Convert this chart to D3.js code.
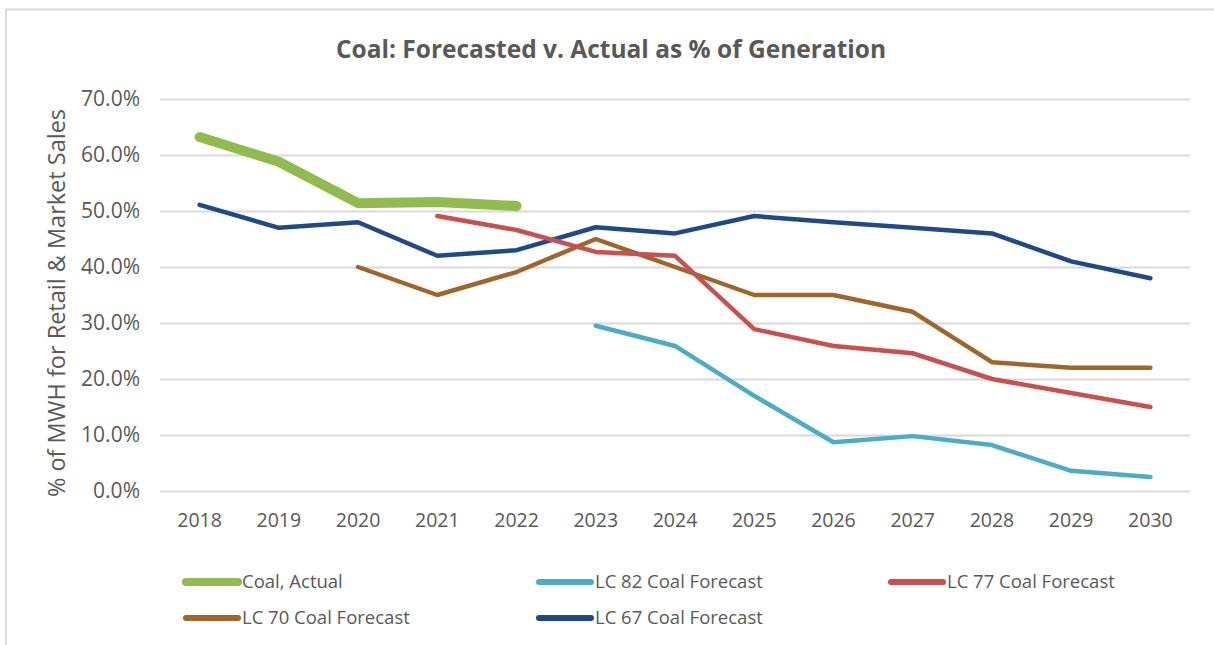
<!DOCTYPE html>
<html>
<head>
<meta charset="utf-8">
<script src="https://cdn.jsdelivr.net/npm/d3@7"></script>
<style>
  html, body { margin: 0; padding: 0; background: #fff; }
  svg { display: block; font-family: "Open Sans", sans-serif; }
</style>
</head>
<body>
<div id="chart"></div>
<script>
// Coal forecast vs actual
const years = ['2018', '2019', '2020', '2021', '2022', '2023', '2024', '2025', '2026', '2027', '2028', '2029', '2030'];
const yTicks = [0, 0.1, 0.2, 0.3, 0.4, 0.5, 0.6, 0.7];

const coalActual = [0.632, 0.588, 0.514, 0.516, 0.509, null, null, null, null, null, null, null, null];
const lc82 = [null, null, null, null, null, 0.295, 0.259, 0.170, 0.087, 0.098, 0.082, 0.036, 0.025];
const lc77 = [null, null, null, 0.491, 0.466, 0.427, 0.420, 0.289, 0.259, 0.246, 0.200, 0.175, 0.150];
const lc70 = [null, null, 0.400, 0.350, 0.391, 0.450, 0.400, 0.350, 0.350, 0.320, 0.230, 0.220, 0.220];
const lc67 = [0.511, 0.470, 0.480, 0.420, 0.430, 0.471, 0.460, 0.491, 0.480, 0.470, 0.460, 0.410, 0.380];

const seriesNames = ['Coal, Actual', 'LC 82 Coal Forecast', 'LC 77 Coal Forecast', 'LC 70 Coal Forecast', 'LC 67 Coal Forecast'];

const W = 1214, H = 645;
const margin = { top: 99, right: 24, bottom: 154, left: 160 };
const textColor = '#595959';

const series = [
  { name: seriesNames[0], values: coalActual, color: '#92bb4f', width: 10 },
  { name: seriesNames[1], values: lc82, color: '#4bacc6', width: 4.5 },
  { name: seriesNames[2], values: lc77, color: '#c8504f', width: 4.5 },
  { name: seriesNames[3], values: lc70, color: '#a0652b', width: 4.5 },
  { name: seriesNames[4], values: lc67, color: '#1f4a87', width: 4.5 }
];

const svg = d3.select('#chart').append('svg')
  .attr('width', W)
  .attr('height', H);

// outer frame (only top & left edges show in the crop)
svg.append('path')
  .attr('d', `M6,${H} V9.5 H${W}`)
  .attr('fill', 'none')
  .attr('stroke', '#d9d9d9')
  .attr('stroke-width', 2);

const x = d3.scaleBand()
  .domain(years)
  .range([margin.left, W - margin.right]);

const y = d3.scaleLinear()
  .domain([0, 0.7])
  .range([H - margin.bottom, margin.top]);

// title
svg.append('text')
  .attr('x', 611)
  .attr('y', 58)
  .attr('text-anchor', 'middle')
  .attr('font-size', 24.5)
  .attr('font-weight', 700)
  .attr('fill', textColor)
  .text('Coal: Forecasted v. Actual as % of Generation');

// y axis + gridlines
const yAxis = svg.append('g')
  .attr('transform', `translate(${margin.left},0)`)
  .call(d3.axisLeft(y)
    .tickValues(yTicks)
    .tickFormat(d3.format('.1%'))
    .tickSize(-(W - margin.left - margin.right))
    .tickPadding(20));
yAxis.select('.domain').remove();
yAxis.selectAll('.tick line')
  .attr('stroke', '#d9d9d9')
  .attr('stroke-width', 2);
yAxis.selectAll('.tick text')
  .attr('fill', textColor)
  .attr('font-size', 21)
  .attr('font-family', '"Open Sans", sans-serif');

// x axis
const xAxis = svg.append('g')
  .attr('transform', `translate(0,${H - margin.bottom})`)
  .call(d3.axisBottom(x).tickSize(0).tickPadding(22));
xAxis.select('.domain').remove();
xAxis.selectAll('.tick text')
  .attr('fill', textColor)
  .attr('font-size', 19.5)
  .attr('font-family', '"Open Sans", sans-serif');

// y axis title
svg.append('text')
  .attr('transform', 'translate(65,303) rotate(-90)')
  .attr('text-anchor', 'middle')
  .attr('font-size', 23.5)
  .attr('fill', textColor)
  .text('% of MWH for Retail & Market Sales');

// lines
const line = d3.line()
  .defined(d => d != null)
  .x((d, i) => x(years[i]) + x.bandwidth() / 2)
  .y(d => y(d));

svg.append('g')
  .selectAll('path')
  .data(series.slice().reverse())
  .join('path')
    .attr('d', d => line(d.values))
    .attr('fill', 'none')
    .attr('stroke', d => d.color)
    .attr('stroke-width', d => d.width)
    .attr('stroke-linejoin', 'round')
    .attr('stroke-linecap', 'round');

// legend
const legendPos = [
  [183, 582], [536, 582], [888, 582],
  [183, 618], [536, 618]
];
const legend = svg.append('g')
  .selectAll('g')
  .data(series)
  .join('g')
    .attr('transform', (d, i) => `translate(${legendPos[i][0]},${legendPos[i][1]})`);

legend.append('line')
  .attr('x1', 3).attr('x2', 55)
  .attr('stroke', d => d.color)
  .attr('stroke-width', d => d.width > 5 ? 8 : 6)
  .attr('stroke-linecap', 'round');

legend.append('text')
  .attr('x', 59)
  .attr('dy', '0.35em')
  .attr('font-size', 18.5)
  .attr('fill', textColor)
  .text(d => d.name);
</script>
</body>
</html>
